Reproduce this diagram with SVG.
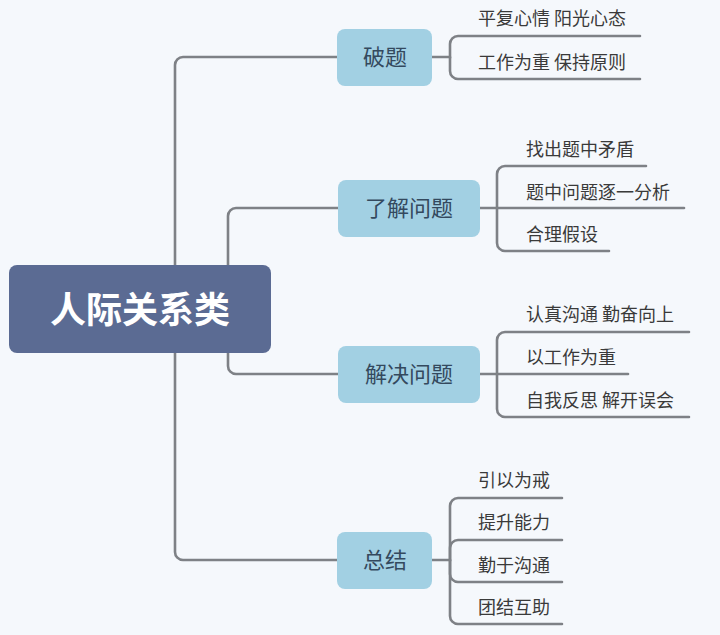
<svg xmlns="http://www.w3.org/2000/svg" width="720" height="635" viewBox="0 0 720 635">
<style>
.ln{fill:none;stroke:#7e8186;stroke-width:2.6;stroke-linecap:round}
.nb{fill:#a2d0e3}
.nt{font-family:"Noto Sans CJK SC",sans-serif;font-size:22px;fill:#34495e;text-anchor:middle}
.ct{font-family:"Noto Sans CJK SC",sans-serif;font-size:18px;fill:#3a3a3a}
</style>
<rect width="720" height="635" fill="#f5f8fc"/>
<g id="connectors" class="ln">
<path d="M338,57 H183 A8,8 0 0 0 175,65 V552 A8,8 0 0 0 183,560 H338"/>
<path d="M338,208 H236 A8,8 0 0 0 228,216 V366 A8,8 0 0 0 236,374 H338"/>
<path d="M432,57 H450 V44 A8,8 0 0 1 458,36 H640"/>
<path d="M450,57 V71 A8,8 0 0 0 458,79 H640"/>
<path d="M480,208 H684"/>
<path d="M497,208 V174 A8,8 0 0 1 505,166 H646"/>
<path d="M497,208 V243 A8,8 0 0 0 505,251 H609"/>
<path d="M480,374 H628"/>
<path d="M497,374 V340 A8,8 0 0 1 505,332 H689"/>
<path d="M497,374 V409 A8,8 0 0 0 505,417 H689"/>
<path d="M432,560 H450 V506 A8,8 0 0 1 458,498 H562"/>
<path d="M450,560 V548 A8,8 0 0 1 458,540 H562"/>
<path d="M450,560 V574 A8,8 0 0 0 458,582 H562"/>
<path d="M450,560 V616 A8,8 0 0 0 458,624 H562"/>
</g>
<g id="root">
<rect x="9" y="265" width="262" height="88" rx="8" fill="#5b6b93"/>
<text x="140" y="323" font-family="Noto Sans CJK SC,sans-serif" font-size="36" font-weight="bold" fill="#ffffff" text-anchor="middle">人际关系类</text>
</g>
<g id="n1">
<rect class="nb" x="337" y="29" width="95" height="57" rx="8"/>
<text class="nt" x="385" y="65">破题</text>
</g>
<g id="n1c1"><text class="ct" x="478" y="25">平复心情 阳光心态</text></g>
<g id="n1c2"><text class="ct" x="478" y="69">工作为重 保持原则</text></g>
<g id="n2">
<rect class="nb" x="338" y="180" width="142" height="57" rx="8"/>
<text class="nt" x="409" y="216">了解问题</text>
</g>
<g id="n2c1"><text class="ct" x="526" y="156">找出题中矛盾</text></g>
<g id="n2c2"><text class="ct" x="526" y="199">题中问题逐一分析</text></g>
<g id="n2c3"><text class="ct" x="526" y="241">合理假设</text></g>
<g id="n3">
<rect class="nb" x="338" y="346" width="142" height="57" rx="8"/>
<text class="nt" x="409" y="382">解决问题</text>
</g>
<g id="n3c1"><text class="ct" x="526" y="321">认真沟通 勤奋向上</text></g>
<g id="n3c2"><text class="ct" x="526" y="364">以工作为重</text></g>
<g id="n3c3"><text class="ct" x="526" y="407">自我反思 解开误会</text></g>
<g id="n4">
<rect class="nb" x="337" y="532" width="95" height="57" rx="8"/>
<text class="nt" x="385" y="568">总结</text>
</g>
<g id="n4c1"><text class="ct" x="478" y="487">引以为戒</text></g>
<g id="n4c2"><text class="ct" x="478" y="529">提升能力</text></g>
<g id="n4c3"><text class="ct" x="478" y="572">勤于沟通</text></g>
<g id="n4c4"><text class="ct" x="478" y="614">团结互助</text></g>
</svg>
